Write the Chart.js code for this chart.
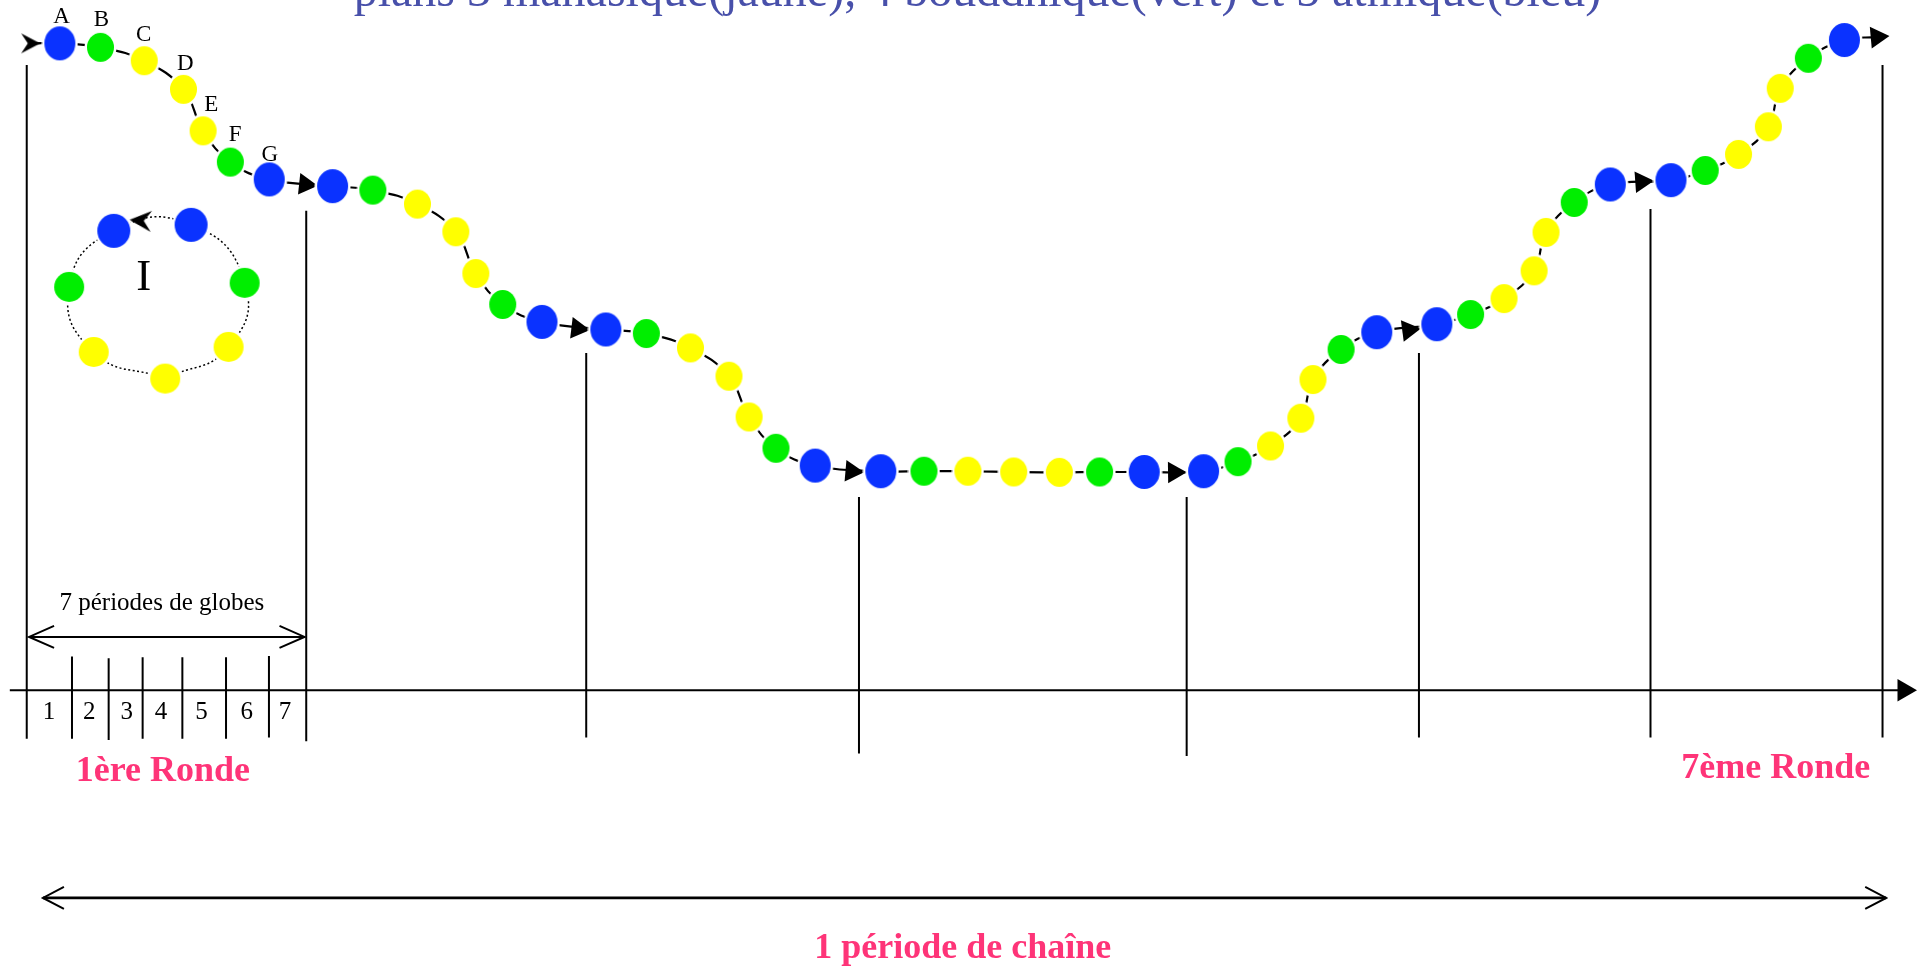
<!DOCTYPE html>
<html lang="fr">
<head>
<meta charset="utf-8">
<title>Chaîne de globes</title>
<script src="https://cdn.jsdelivr.net/npm/chart.js@4.4.0/dist/chart.umd.min.js"></script>
<style>
    html, body { margin: 0; padding: 0; background: #fff; overflow: hidden; }
    #chaine { display: block; }
</style>
</head>
<body>
<canvas id="chaine" width="1923" height="967"></canvas>
<script>
// valeurs (repere 1568 x 788, y vers le bas)
const titre = 'plans 3 manasique(jaune), 4 bouddhique(vert) et 5 atmique(bleu)';
const globes = ['A', 'B', 'C', 'D', 'E', 'F', 'G'];
const plans = ['bleu', 'vert', 'jaune', 'jaune', 'jaune', 'vert', 'bleu'];

const rondesX = [
    [48.8, 81.9, 117.6, 149.6, 165.6, 187.8, 219.5],
    [271.2, 304.0, 340.4, 371.7, 388.0, 409.9, 441.9],
    [494.0, 527.0, 563.0, 594.4, 610.8, 632.7, 664.7],
    [718.2, 753.4, 789.2, 826.6, 863.8, 896.6, 933.0],
    [981.4, 1009.5, 1036.0, 1060.7, 1070.6, 1093.5, 1122.6],
    [1171.6, 1199.1, 1226.4, 1250.9, 1260.6, 1283.6, 1313.0],
    [1362.5, 1390.4, 1417.6, 1441.9, 1451.6, 1474.5, 1503.9]
];
const rondesY = [
    [35.3, 38.6, 49.5, 72.8, 106.6, 132.1, 146.2],
    [151.7, 154.9, 166.3, 188.9, 222.9, 248.1, 262.3],
    [268.5, 271.8, 283.5, 306.6, 339.8, 365.3, 379.4],
    [384.0, 384.0, 384.0, 384.6, 384.9, 384.6, 384.6],
    [384.0, 376.2, 363.4, 340.8, 309.3, 284.8, 270.7],
    [264.2, 256.3, 243.3, 220.7, 189.4, 165.0, 150.3],
    [146.8, 138.9, 125.8, 103.3, 72.0, 47.5, 32.6]
];

const debutChaine = [25, 35.3];
const flechesX = [249, 471, 694.5, 957.5, 1148.5, 1338.5, 1530.5];
const flechesY = [150.2, 267.7, 384.0, 385.0, 269.1, 148.1, 30.2];

// anneau du globe I
const anneauX = [92.8, 56.4, 76.4, 134.7, 186.4, 199.5, 155.8];
const anneauY = [188.1, 233.8, 286.8, 308.5, 282.7, 230.5, 183.2];
const anneauPlans = ['bleu', 'vert', 'jaune', 'jaune', 'jaune', 'vert', 'bleu'];
const anneauFleche = [114.5, 179.8];

// axe du temps
const limitesX = [21.8, 249.7, 478, 700.4, 967.6, 1157, 1345.8, 1535];
const limitesHaut = [53, 171.8, 287.6, 405, 405, 287.6, 170.4, 53];
const limitesBas = [602, 604, 601, 614, 616, 601, 601, 601];
const periodesX = [58.7, 88.6, 116.3, 148.7, 184.3, 219.3];
const periodesHaut = [535, 536.5, 535.5, 535.5, 535.5, 534.5];
const periodesBas = [602, 603, 602, 602, 602, 601];
const periodesLabels = ['1', '2', '3', '4', '5', '6', '7'];
const periodesLabelX = [40, 72.8, 103.3, 131.3, 164.4, 201.1, 232.4];
const axeY = 562.5;
const axeDebut = 8;
const axeFin = 1552.5;
const flechePeriodes = [23.7, 248.3, 519];
const flecheChaine = [35, 1538, 731.7];

const couleurs = { bleu: '#0a32ff', vert: '#00ee00', jaune: '#ffff00' };
const serif = "'Liberation Serif', 'Times New Roman', serif";
const rose = '#fe3478';

function ellipse(couleur, w, h) {
    const c = document.createElement('canvas');
    c.width = w + 6;
    c.height = h + 6;
    const g = c.getContext('2d');
    g.fillStyle = '#fff';
    g.beginPath();
    g.ellipse(c.width / 2, c.height / 2, w / 2 + 2.5, h / 2 + 2.5, 0, 0, Math.PI * 2);
    g.fill();
    g.fillStyle = couleur;
    g.beginPath();
    g.ellipse(c.width / 2, c.height / 2, w / 2, h / 2, 0, 0, Math.PI * 2);
    g.fill();
    return c;
}

function pointeFurtive(l, h) {
    const c = document.createElement('canvas');
    c.width = l + 2;
    c.height = h + 2;
    const g = c.getContext('2d');
    g.fillStyle = '#000';
    g.beginPath();
    g.moveTo(1 + l, 1 + h / 2);
    g.lineTo(1, 1);
    g.lineTo(1 + l * 0.35, 1 + h / 2);
    g.lineTo(1, 1 + h);
    g.closePath();
    g.fill();
    return c;
}

const tailles = { bleu: [31, 34], vert: [27, 29], jaune: [27, 29] };
const taillesAnneau = { bleu: [33, 34], vert: [30, 30], jaune: [30, 30] };

function segment(p0, p1, w) {
    return {
        data: [{ x: p0[0], y: p0[1] }, { x: p1[0], y: p1[1] }],
        showLine: true,
        borderColor: '#000',
        borderWidth: w,
        pointRadius: 0,
        clip: false,
        order: 5
    };
}

const datasets = [];

// globes de la chaine
['bleu', 'vert', 'jaune'].forEach((p) => {
    const pts = [];
    rondesX.forEach((xs, r) => {
        xs.forEach((x, j) => {
            if (plans[j] === p) pts.push({ x: x, y: rondesY[r][j] });
        });
    });
    const img = ellipse(couleurs[p], tailles[p][0], tailles[p][1]);
    datasets.push({ data: pts, pointStyle: img, pointRadius: 15, clip: false, order: 0 });
});

// globes de l'anneau
['bleu', 'vert', 'jaune'].forEach((p) => {
    const pts = [];
    anneauX.forEach((x, i) => {
        if (anneauPlans[i] === p) pts.push({ x: x, y: anneauY[i] });
    });
    const img = ellipse(couleurs[p], taillesAnneau[p][0], taillesAnneau[p][1]);
    datasets.push({ data: pts, pointStyle: img, pointRadius: 15, clip: false, order: 0 });
});

// trajet de la chaine
const trajet = [{ x: debutChaine[0], y: debutChaine[1] }];
rondesX.forEach((xs, r) => xs.forEach((x, j) => trajet.push({ x: x, y: rondesY[r][j] })));
trajet.push({ x: flechesX[6], y: flechesY[6] });
datasets.push({
    data: trajet, showLine: true, tension: 0.42, borderColor: '#000', borderWidth: 2.2,
    pointRadius: 0, clip: false, order: 4
});

// fleches entre les rondes
const rot = flechesX.map((fx, i) => {
    const gx = rondesX[i][6], gy = rondesY[i][6];
    const ax = i < 6 ? rondesX[i + 1][0] : fx;
    const ay = i < 6 ? rondesY[i + 1][0] : flechesY[i];
    return 90 + Math.atan2(ay - gy, ax - gx) * 180 / Math.PI;
});
datasets.push({
    data: flechesX.map((x, i) => ({ x: x, y: flechesY[i] })),
    pointStyle: 'triangle', pointRadius: 12.5, pointRotation: rot,
    pointBackgroundColor: '#000', pointBorderColor: '#000', pointBorderWidth: 0,
    clip: false, order: 1
});

// pointes furtives (debut de chaine, anneau)
datasets.push({
    data: [{ x: debutChaine[0], y: debutChaine[1] }],
    pointStyle: pointeFurtive(19, 20), pointRadius: 10, pointRotation: 0, clip: false, order: 1
});
datasets.push({
    data: [{ x: anneauFleche[0], y: anneauFleche[1] }],
    pointStyle: pointeFurtive(22, 21), pointRadius: 10, pointRotation: 184, clip: false, order: 1
});

// anneau pointille
const boucle = [3, 2, 1, 0, 6, 5, 4, 3].map((i) => ({ x: anneauX[i], y: anneauY[i] }));
datasets.push({
    data: boucle, showLine: true, tension: 0.5, borderColor: '#000', borderWidth: 1.5,
    borderDash: [2, 2.5], pointRadius: 0, clip: false, order: 4
});

// axe et traits
datasets.push(segment([axeDebut, axeY], [axeFin, axeY], 2));
datasets.push({
    data: [{ x: axeFin, y: axeY }], pointStyle: 'triangle', pointRadius: 13, pointRotation: 90,
    pointBackgroundColor: '#000', pointBorderWidth: 0, clip: false, order: 1
});
limitesX.forEach((x, i) => datasets.push(segment([x, limitesHaut[i]], [x, limitesBas[i]], 2)));
periodesX.forEach((x, i) => datasets.push(segment([x, periodesHaut[i]], [x, periodesBas[i]], 2)));
datasets.push(segment([flechePeriodes[0], flechePeriodes[2]], [flechePeriodes[1], flechePeriodes[2]], 2));
datasets.push(segment([flecheChaine[0], flecheChaine[2]], [flecheChaine[1], flecheChaine[2]], 2.8));

const lettresPos = [[50.2, 18.7], [82.6, 21.5], [117.2, 33.7], [151, 56.8], [172.2, 90.7], [191.8, 115.2], [219.9, 131]];

const decor = {
    id: 'decor',
    afterDatasetsDraw(chart) {
        const { ctx, scales: { x, y } } = chart;
        const texte = (t, px, py, font, couleur) => {
            ctx.font = font;
            ctx.fillStyle = couleur;
            ctx.textAlign = 'center';
            ctx.textBaseline = 'alphabetic';
            ctx.fillText(t, x.getPixelForValue(px), y.getPixelForValue(py));
        };
        const chevrons = (x0, x1, yy, arm, half, w) => {
            const a = x.getPixelForValue(x0), b = x.getPixelForValue(x1), c = y.getPixelForValue(yy);
            ctx.strokeStyle = '#000';
            ctx.lineWidth = w;
            ctx.beginPath();
            ctx.moveTo(a + arm, c - half); ctx.lineTo(a, c); ctx.lineTo(a + arm, c + half);
            ctx.moveTo(b - arm, c - half); ctx.lineTo(b, c); ctx.lineTo(b - arm, c + half);
            ctx.stroke();
        };
        ctx.save();
        texte(titre, 797, 5, '48px ' + serif, '#4850aa');
        globes.forEach((g, i) => texte(g, lettresPos[i][0], lettresPos[i][1], '23px ' + serif, '#000'));
        texte('I', 117.2, 236.4, '45px ' + serif, '#000');
        texte('7 périodes de globes', 132, 497.4, '25px ' + serif, '#000');
        periodesLabels.forEach((l, i) => texte(l, periodesLabelX[i], 586, '25px ' + serif, '#000'));
        texte('1ère Ronde', 132.8, 636.6, 'bold 36px ' + serif, rose);
        texte('7ème Ronde', 1448, 634, 'bold 36px ' + serif, rose);
        texte('1 période de chaîne', 785, 780.4, 'bold 36px ' + serif, rose);
        chevrons(flechePeriodes[0], flechePeriodes[1], flechePeriodes[2], 25, 11, 2);
        chevrons(flecheChaine[0], flecheChaine[1], flecheChaine[2], 21, 11, 2);
        ctx.restore();
    }
};

new Chart(document.getElementById('chaine'), {
    type: 'scatter',
    data: { datasets: datasets },
    options: {
        responsive: false,
        animation: false,
        events: [],
        layout: { padding: 0, autoPadding: false },
        scales: {
            x: { type: 'linear', min: 0, max: 1568, display: false },
            y: { type: 'linear', min: 0, max: 788, reverse: true, display: false }
        },
        plugins: {
            legend: { display: false },
            tooltip: { enabled: false }
        }
    },
    plugins: [decor]
});
</script>
</body>
</html>
